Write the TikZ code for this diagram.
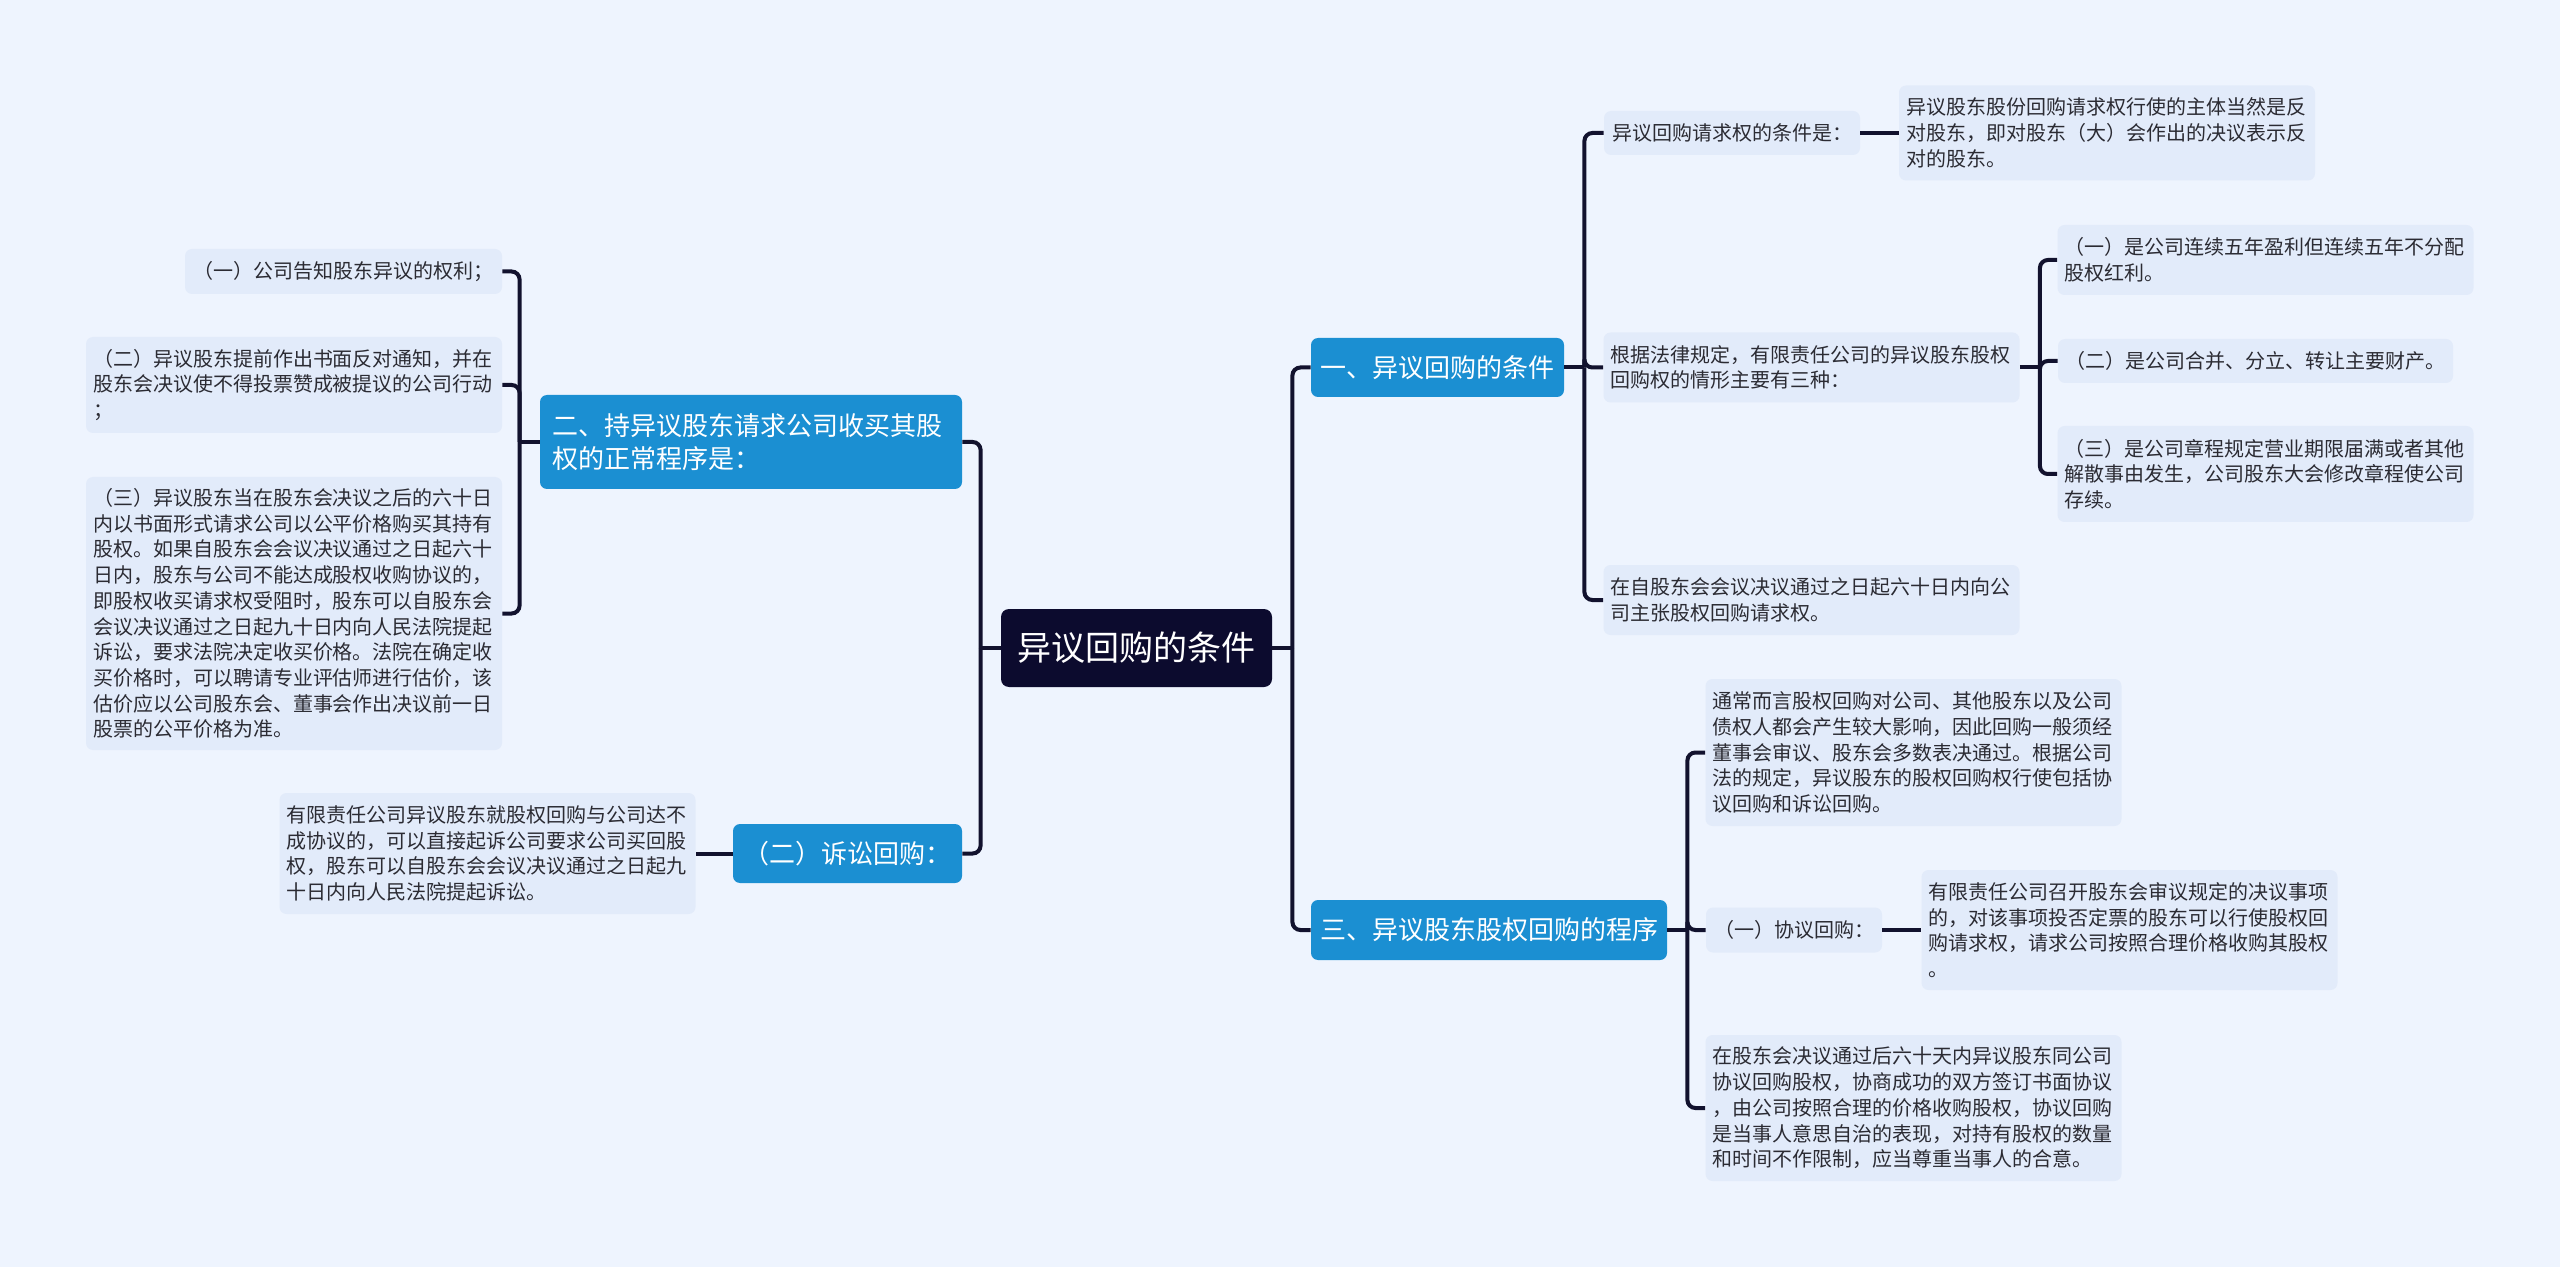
\documentclass[tikz,border=0pt]{standalone}
\usepackage{fontspec}
\setmainfont{Noto Sans CJK SC}
\definecolor{bgc}{HTML}{EEF4FE}
\definecolor{leafc}{HTML}{E2EBFA}
\definecolor{bluec}{HTML}{1B8FD2}
\definecolor{rootc}{HTML}{0C0B2E}
\definecolor{ink}{HTML}{12122E}
\definecolor{txt}{HTML}{2B2B33}
\tikzset{link/.style={line width=2pt,draw=ink,rounded corners=4pt},
  leaf/.style={fill=leafc,text=txt,rounded corners=3.5pt,inner xsep=3.5pt,inner ysep=1pt,
    align=left,text width=201pt,font=\fontsize{10}{12.85}\selectfont},
  branch/.style={fill=bluec,text=white,rounded corners=3.5pt,inner xsep=4pt,inner ysep=1pt,
    align=center,font=\fontsize{13}{16.5}\selectfont},
  rootbox/.style={fill=rootc,text=white,rounded corners=4pt,inner xsep=8pt,align=center,
    text width=119.5pt,minimum height=39pt,font=\fontsize{17}{20}\selectfont}}

\begin{document}
\begin{tikzpicture}[x=0.5pt,y=-0.5pt]
\fill[bgc] (0,0) rectangle (2560,1267);
\useasboundingbox (0,0) rectangle (2560,1267);
% centre
\node[rootbox] (root) at (1136.5,648) {异议回购的条件};
% main branches
\node[branch,text width=118.5pt,minimum height=29.5pt] (b1) at (1437.5,367.5) {一、异议回购的条件};
\node[branch,text width=170pt,minimum height=30pt] (b3) at (1489,930) {三、异议股东股权回购的程序};
\node[branch,align=left,inner xsep=6pt,text width=199pt,minimum height=47pt] (b2) at (751,442)
  {二、持异议股东请求公司收买其股\\权的正常程序是：};
\node[branch,inner xsep=5pt,text width=104.5pt,minimum height=29.5pt] (b4) at (847.5,853.5) {（二）诉讼回购：};
% left leaves
\node[leaf,align=center,text width=151.5pt,minimum height=22.5pt] (L1) at (343.5,271.5) {（一）公司告知股东异议的权利；};
\node[leaf,minimum height=48pt] (L2) at (294,385)
  {（二）异议股东提前作出书面反对通知，并在\\股东会决议使不得投票赞成被提议的公司行动\\；};
\node[leaf,minimum height=136.5pt] (L3) at (294,613.5)
  {（三）异议股东当在股东会决议之后的六十日\\内以书面形式请求公司以公平价格购买其持有\\股权。如果自股东会会议决议通过之日起六十\\日内，股东与公司不能达成股权收购协议的，\\即股权收买请求权受阻时，股东可以自股东会\\会议决议通过之日起九十日内向人民法院提起\\诉讼，要求法院决定收买价格。法院在确定收\\买价格时，可以聘请专业评估师进行估价，该\\估价应以公司股东会、董事会作出决议前一日\\股票的公平价格为准。};
\node[leaf,minimum height=60.5pt] (L4) at (487.5,853.5)
  {有限责任公司异议股东就股权回购与公司达不\\成协议的，可以直接起诉公司要求公司买回股\\权，股东可以自股东会会议决议通过之日起九\\十日内向人民法院提起诉讼。};
% right leaves, branch one
\node[leaf,align=center,text width=121pt,minimum height=22pt] (R1) at (1732,133) {异议回购请求权的条件是：};
\node[leaf,minimum height=47.5pt] (R1a) at (2107,133)
  {异议股东股份回购请求权行使的主体当然是反\\对股东，即对股东（大）会作出的决议表示反\\对的股东。};
\node[leaf,minimum height=35pt] (R2) at (1811.5,367.5)
  {根据法律规定，有限责任公司的异议股东股权\\回购权的情形主要有三种：};
\node[leaf,minimum height=35pt] (R2a) at (2265.5,260)
  {（一）是公司连续五年盈利但连续五年不分配\\股权红利。};
\node[leaf,align=center,text width=190.5pt,minimum height=22pt] (R2b) at (2255.5,361) {（二）是公司合并、分立、转让主要财产。};
\node[leaf,minimum height=48pt] (R2c) at (2265.5,474)
  {（三）是公司章程规定营业期限届满或者其他\\解散事由发生，公司股东大会修改章程使公司\\存续。};
\node[leaf,minimum height=35pt] (R3) at (1811.5,600)
  {在自股东会会议决议通过之日起六十日内向公\\司主张股权回购请求权。};
% right leaves, branch three
\node[leaf,minimum height=73.5pt] (P1) at (1913.5,752.5)
  {通常而言股权回购对公司、其他股东以及公司\\债权人都会产生较大影响，因此回购一般须经\\董事会审议、股东会多数表决通过。根据公司\\法的规定，异议股东的股权回购权行使包括协\\议回购和诉讼回购。};
\node[leaf,align=center,text width=81pt,minimum height=22.5pt] (P2) at (1794,930) {（一）协议回购：};
\node[leaf,minimum height=60pt] (P2a) at (2129.5,930)
  {有限责任公司召开股东会审议规定的决议事项\\的，对该事项投否定票的股东可以行使股权回\\购请求权，请求公司按照合理价格收购其股权\\。};
\node[leaf,minimum height=73pt] (P3) at (1913.5,1108)
  {在股东会决议通过后六十天内异议股东同公司\\协议回购股权，协商成功的双方签订书面协议\\，由公司按照合理的价格收购股权，协议回购\\是当事人意思自治的表现，对持有股权的数量\\和时间不作限制，应当尊重当事人的合意。};
% junctions
\coordinate (rj) at ([xshift=10pt]root.east);
\coordinate (lj) at ([xshift=-10pt]root.west);
\coordinate (b1j) at ([xshift=10pt]b1.east);
\coordinate (b2j) at ([xshift=-10pt]b2.west);
\coordinate (b3j) at ([xshift=10pt]b3.east);
\coordinate (R2j) at ([xshift=10pt]R2.east);
% connectors
\draw[link] (root.east) -- (rj);
\draw[link] (rj) |- (b1.west);
\draw[link] (rj) |- (b3.west);
\draw[link] (root.west) -- (lj);
\draw[link] (lj) |- (b2.east);
\draw[link] (lj) |- (b4.east);
\draw[link] (b2.west) -- (b2j);
\foreach \c in {L1,L2,L3} \draw[link] (b2j) |- (\c.east);
\draw[link] (b4.west) -- (L4.east);
\draw[link] (b1.east) -- (b1j);
\foreach \c in {R1,R2,R3} \draw[link] (b1j) |- (\c.west);
\draw[link] (R1.east) -- (R1a.west);
\draw[link] (R2.east) -- (R2j);
\foreach \c in {R2a,R2b,R2c} \draw[link] (R2j) |- (\c.west);
\draw[link] (b3.east) -- (b3j);
\foreach \c in {P1,P2,P3} \draw[link] (b3j) |- (\c.west);
\draw[link] (P2.east) -- (P2a.west);
\end{tikzpicture}
\end{document}
